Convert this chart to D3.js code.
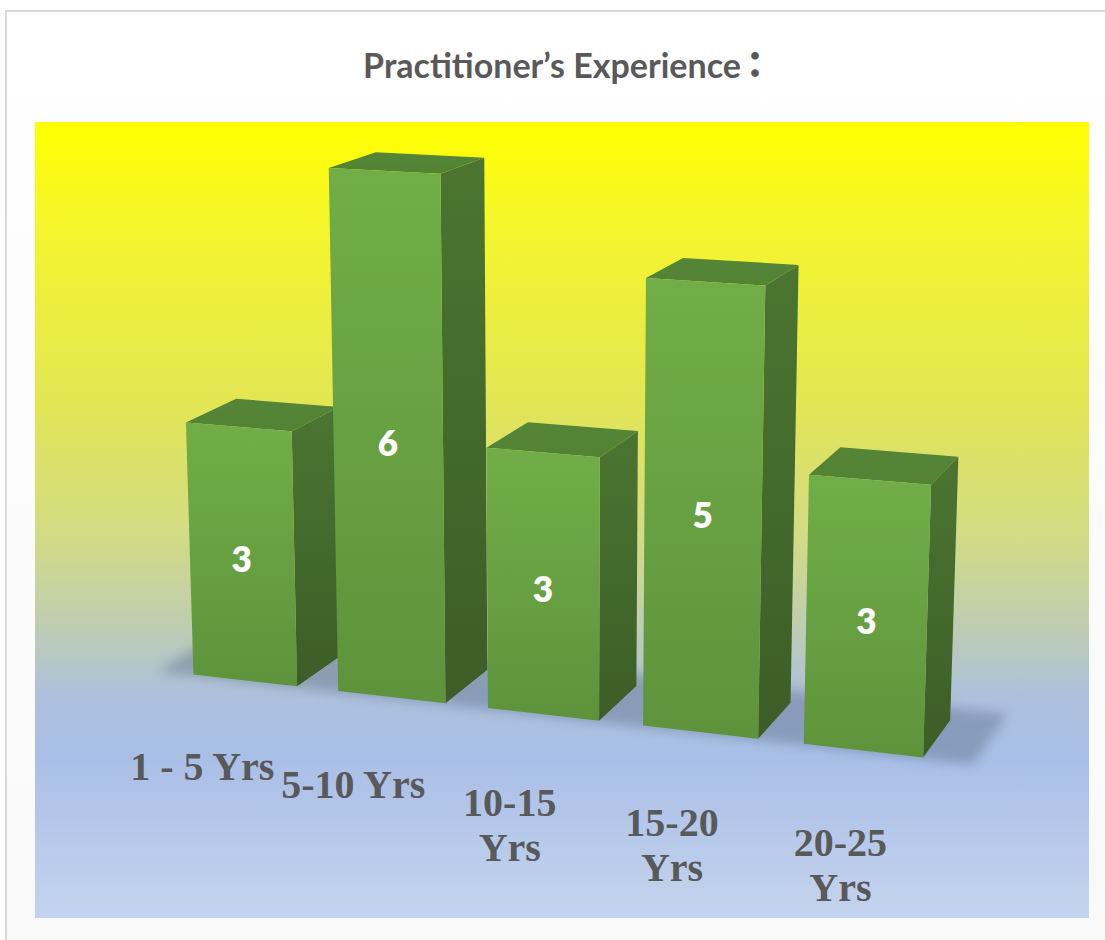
<!DOCTYPE html>
<html>
<head>
<meta charset="utf-8">
<script src="https://cdn.jsdelivr.net/npm/d3@7"></script>
<style>
  html, body { margin: 0; padding: 0; background: #ffffff; }
  svg { display: block; }
</style>
</head>
<body>
<svg id="chart" width="1105" height="940"></svg>
<script>
// ---- data ----
const title = "Practitioner\u2019s Experience";
const titleColon = "\uFF1A";
const categories = ["1 - 5 Yrs", "5-10 Yrs", "10-15 Yrs", "15-20 Yrs", "20-25 Yrs"];
const categoryLines = [["1 - 5 Yrs"], ["5-10 Yrs"], ["10-15", "Yrs"], ["15-20", "Yrs"], ["20-25", "Yrs"]];
const values = [3, 6, 3, 5, 3];

// ---- layout ----
const W = 1105, H = 940;
const plot = { x: 35, y: 122, w: 1054, h: 796 };

const svg = d3.select("#chart");
const defs = svg.append("defs");

// chart area background
const bgGrad = defs.append("linearGradient").attr("id", "bgGrad")
  .attr("x1", 0).attr("y1", 0).attr("x2", 0).attr("y2", 1);
bgGrad.append("stop").attr("offset", 0).attr("stop-color", "#ffffff");
bgGrad.append("stop").attr("offset", 1).attr("stop-color", "#f9f9f9");

svg.append("rect").attr("x", 6).attr("y", 11).attr("width", W).attr("height", H)
  .attr("fill", "url(#bgGrad)").attr("stroke", "#d9d9d9").attr("stroke-width", 2);

// plot area gradient (yellow to light blue)
const plotGrad = defs.append("linearGradient").attr("id", "plotGrad")
  .attr("x1", 0).attr("y1", 0).attr("x2", 0).attr("y2", 1);
[[0, "#ffff00"], [0.12, "#f6f62a"], [0.35, "#e2e653"], [0.52, "#d2db85"],
 [0.63, "#bfcdb0"], [0.72, "#adc1dc"], [0.8, "#aabfe7"], [1, "#c4d4ee"]]
  .forEach(([o, c]) => plotGrad.append("stop").attr("offset", o).attr("stop-color", c));

svg.append("rect").attr("x", plot.x).attr("y", plot.y)
  .attr("width", plot.w).attr("height", plot.h).attr("fill", "url(#plotGrad)");

// title
const titleText = svg.append("text")
  .attr("x", 568).attr("y", 78)
  .attr("text-anchor", "middle")
  .attr("font-family", "Lato, 'Noto Sans CJK SC', sans-serif")
  .attr("font-weight", 700).attr("font-size", 34)
  .attr("fill", "#595959");
titleText.append("tspan").text(title);
titleText.append("tspan").attr("font-family", "'Noto Sans CJK JP', sans-serif")
  .attr("font-weight", 900).attr("font-size", 36).attr("dx", -4).text(titleColon);

// ---- 3D scales and camera ----
const xBand = d3.scaleBand().domain(categories).range([-413, 413])
  .paddingInner(0.28).paddingOuter(0.15);
const yLin = d3.scaleLinear().domain([0, 6]).range([0, 540]);
const depth = xBand.bandwidth();

const cam = {
  f: 3050, dist: 3050,
  yaw: 19.6 * Math.PI / 180, pitch: 13.5 * Math.PI / 180,
  targetY: 260, cx: 563, cy: 449
};
const cy_ = Math.cos(cam.yaw), sy_ = Math.sin(cam.yaw);
const cp = Math.cos(cam.pitch), sp = Math.sin(cam.pitch);

function project(X, Y, Z) {
  const y = Y - cam.targetY;
  const xc = X * cy_ + Z * sy_;
  const zc = -X * sy_ + Z * cy_;
  const y0 = -y;
  const yp = y0 * cp - zc * sp;
  const zp = y0 * sp + zc * cp + cam.dist;
  return [cam.cx + cam.f * xc / zp, cam.cy + cam.f * yp / zp];
}
const line = d3.line();
const quad = pts => line(pts.map(p => project(p[0], p[1], p[2]))) + "Z";

// floor shadow
const blur = defs.append("filter").attr("id", "floorBlur")
  .attr("x", "-20%").attr("y", "-50%").attr("width", "140%").attr("height", "200%");
blur.append("feGaussianBlur").attr("stdDeviation", 6);

const [r0, r1] = xBand.range();
const zF = -depth / 2, zB = depth / 2;
svg.append("path")
  .attr("d", quad([[r0 - 15, 0, zF - 5], [r1 + 25, 0, zF - 5], [r1 + 25, 0, zB + 40], [r0 - 15, 0, zB + 40]]))
  .attr("fill", "#5d6f8e").attr("opacity", 0.45)
  .attr("filter", "url(#floorBlur)");

// bar face gradients
function vGrad(id, top, bottom) {
  const g = defs.append("linearGradient").attr("id", id)
    .attr("x1", 0).attr("y1", 0).attr("x2", 0).attr("y2", 1);
  g.append("stop").attr("offset", 0).attr("stop-color", top);
  g.append("stop").attr("offset", 1).attr("stop-color", bottom);
}
vGrad("frontGrad", "#71ae48", "#5e933b");
vGrad("sideGrad", "#4b7531", "#3c5d27");
vGrad("topGrad", "#558536", "#528234");

const data = categories.map((c, i) => ({ cat: c, value: values[i], lines: categoryLines[i] }));

// bars drawn from far (left) to near (right)
const bars = svg.append("g").selectAll("g").data(data).join("g");
bars.each(function (d) {
  const g = d3.select(this);
  const x0 = xBand(d.cat), x1 = x0 + xBand.bandwidth();
  const h = yLin(d.value);
  g.append("path").attr("d", quad([[x1, 0, zF], [x1, 0, zB], [x1, h, zB], [x1, h, zF]]))
    .attr("fill", "url(#sideGrad)");
  g.append("path").attr("d", quad([[x0, h, zF], [x1, h, zF], [x1, h, zB], [x0, h, zB]]))
    .attr("fill", "url(#topGrad)");
  g.append("path").attr("d", quad([[x0, 0, zF], [x1, 0, zF], [x1, h, zF], [x0, h, zF]]))
    .attr("fill", "url(#frontGrad)");
  const c = project(x0 + xBand.bandwidth() / 2, h / 2, zF);
  g.append("text")
    .attr("x", c[0]).attr("y", c[1] + 3)
    .attr("text-anchor", "middle").attr("dominant-baseline", "central")
    .attr("font-family", "Lato, sans-serif").attr("font-weight", 800)
    .attr("font-size", 35).attr("fill", "#ffffff")
    .text(d.value);
});

// category labels
const labelZ = zF - 120;
const labels = svg.append("g").selectAll("text").data(data).join("text")
  .attr("font-family", "'Liberation Serif', 'Times New Roman', serif")
  .attr("font-weight", 700).attr("font-size", 40)
  .attr("fill", "#595959").attr("text-anchor", "middle")
  .each(function (d) {
    const p = project(xBand(d.cat) + xBand.bandwidth() / 2, 0, labelZ);
    d3.select(this).selectAll("tspan").data(d.lines).join("tspan")
      .attr("x", p[0] + 9).attr("y", (l, i) => p[1] + 65 + i * 45)
      .text(l => l);
  });
</script>
</body>
</html>
